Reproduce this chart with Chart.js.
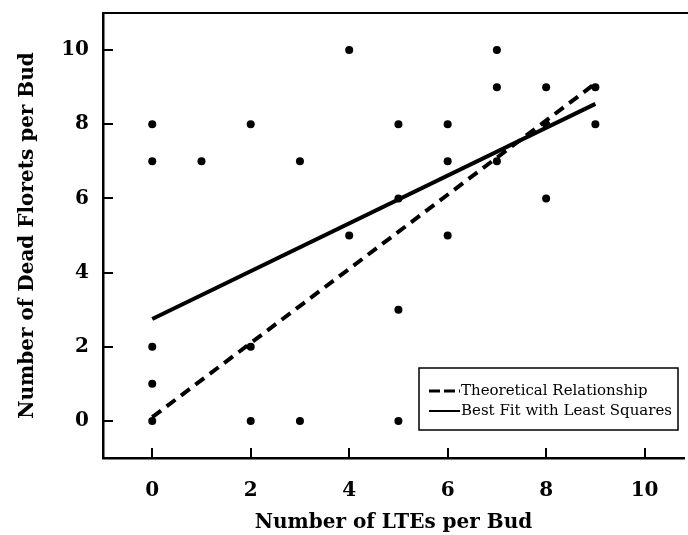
<!DOCTYPE html>
<html>
<head>
<meta charset="utf-8">
<script src="https://cdn.jsdelivr.net/npm/chart.js@4/dist/chart.umd.min.js"></script>
<style>
  html, body { margin: 0; padding: 0; background: #fff; }
</style>
</head>
<body>
<canvas id="myChart" width="688" height="535"></canvas>
<script>
// observed buds: LTEs per bud vs dead florets per bud
var budLTEs     = [0, 0, 0, 0, 0, 1, 2, 2, 2, 3, 3, 4, 4, 5, 5, 5, 5, 6, 6, 6, 7, 7, 7, 8, 8, 8, 9, 9];
var deadFlorets = [8, 7, 2, 1, 0, 7, 8, 2, 0, 7, 0, 10, 5, 8, 6, 3, 0, 8, 7, 5, 10, 9, 7, 9, 8, 6, 9, 8];

// the two lines
var theoryX = [0, 9];
var theoryY = [0.1, 9.1];
var fitX = [0, 9];
var fitY = [2.75, 8.55];

var xTicks = [0, 2, 4, 6, 8, 10];
var yTicks = [0, 2, 4, 6, 8, 10];

var serif = "'DejaVu Serif', 'Liberation Serif', serif";

function toPoints(xs, ys) {
    return xs.map(function(x, i) { return { x: x, y: ys[i] }; });
}

// frame, inward ticks and the boxed legend
var framePlugin = {
    id: 'frame',
    afterDraw: function(chart) {
        var ctx = chart.ctx;
        var area = chart.chartArea;
        var xs = chart.scales.x, ys = chart.scales.y;
        ctx.save();
        ctx.strokeStyle = '#000';
        ctx.lineWidth = 2;
        ctx.beginPath();
        ctx.moveTo(area.left, area.top);
        ctx.lineTo(chart.width, area.top);
        ctx.stroke();

        ctx.lineWidth = 2;
        ctx.beginPath();
        xTicks.forEach(function(v) {
            var px = Math.round(xs.getPixelForValue(v));
            ctx.moveTo(px, area.bottom);
            ctx.lineTo(px, area.bottom - 10);
        });
        yTicks.forEach(function(v) {
            var py = Math.round(ys.getPixelForValue(v));
            ctx.moveTo(area.left, py);
            ctx.lineTo(area.left + 10, py);
        });
        ctx.stroke();

        // legend box
        var bx = 419, by = 368, bw = 259, bh = 62;
        ctx.fillStyle = '#fff';
        ctx.fillRect(bx, by, bw, bh);
        ctx.lineWidth = 1.5;
        ctx.strokeRect(bx, by, bw, bh);

        var rows = [chart.data.datasets[1], chart.data.datasets[2]];
        ctx.font = '15px ' + serif;
        ctx.fillStyle = '#000';
        ctx.textBaseline = 'middle';
        rows.forEach(function(ds, i) {
            var y = by + 23 + i * 20;
            ctx.lineWidth = ds.borderDash ? 3 : 2;
            ctx.setLineDash(ds.borderDash ? [11, 4] : []);
            ctx.beginPath();
            ctx.moveTo(bx + 10, y);
            ctx.lineTo(bx + 41, y);
            ctx.stroke();
            ctx.setLineDash([]);
            ctx.fillText(ds.label, bx + 42, y);
        });
        ctx.restore();
    }
};

var ctx = document.getElementById('myChart').getContext('2d');
var myChart = new Chart(ctx, {
    type: 'scatter',
    data: {
        datasets: [
            {
                label: 'Buds',
                data: toPoints(budLTEs, deadFlorets),
                pointRadius: 4,
                pointBackgroundColor: '#000',
                pointBorderWidth: 0
            },
            {
                label: 'Theoretical Relationship',
                data: toPoints(theoryX, theoryY),
                showLine: true,
                borderColor: '#000',
                borderWidth: 4,
                borderDash: [11, 7],
                pointRadius: 0
            },
            {
                label: 'Best Fit with Least Squares',
                data: toPoints(fitX, fitY),
                showLine: true,
                borderColor: '#000',
                borderWidth: 4,
                pointRadius: 0
            }
        ]
    },
    options: {
        responsive: false,
        animation: false,
        layout: { padding: { top: 13, right: 0, left: 0, bottom: 0 } },
        plugins: { legend: { display: false }, tooltip: { enabled: false } },
        scales: {
            x: {
                min: -1,
                max: 10.8,
                afterBuildTicks: function(scale) {
                    scale.ticks = xTicks.map(function(v) { return { value: v }; });
                },
                afterFit: function(scale) {
                    scale.height = 77;
                    scale.paddingLeft = 0;
                    scale.paddingRight = 0;
                },
                grid: { display: false, drawTicks: false },
                border: { display: true, color: '#000', width: 2.5 },
                ticks: { color: '#000', padding: 21, font: { family: serif, size: 20, weight: 'bold' } },
                title: {
                    display: true,
                    text: 'Number of LTEs per Bud',
                    color: '#000',
                    padding: { top: 0, bottom: 0 },
                    font: { family: serif, size: 20, weight: 'bold' }
                }
            },
            y: {
                min: -1,
                max: 11,
                afterBuildTicks: function(scale) {
                    scale.ticks = yTicks.map(function(v) { return { value: v }; });
                },
                afterFit: function(scale) {
                    scale.width = 103;
                    scale.paddingTop = 0;
                    scale.paddingBottom = 0;
                },
                grid: { display: false, drawTicks: false },
                border: { display: true, color: '#000', width: 2.5 },
                ticks: { color: '#000', padding: 14, font: { family: serif, size: 20, weight: 'bold' } },
                title: {
                    display: true,
                    text: 'Number of Dead Florets per Bud',
                    color: '#000',
                    padding: { top: 16, bottom: 0 },
                    font: { family: serif, size: 20, weight: 'bold' }
                }
            }
        }
    },
    plugins: [framePlugin]
});
</script>
</body>
</html>
